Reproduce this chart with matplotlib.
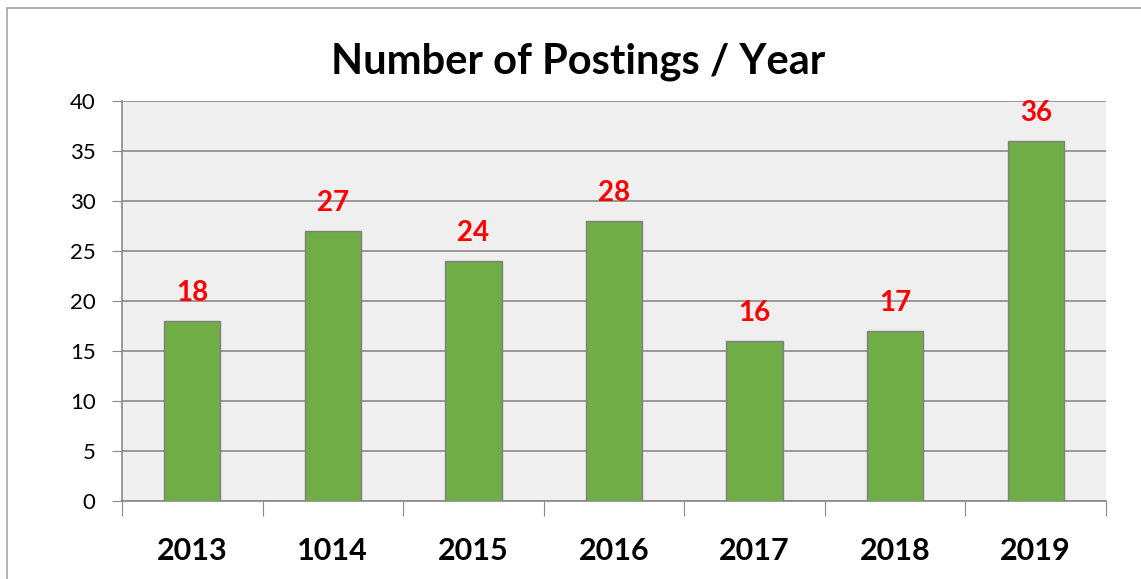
import matplotlib.pyplot as plt
from matplotlib.patches import Rectangle

years = ['2013', '1014', '2015', '2016', '2017', '2018', '2019']
postings = [18, 27, 24, 28, 16, 17, 36]
y_ticks = [0, 5, 10, 15, 20, 25, 30, 35, 40]

plt.rcParams['font.family'] = ['Lato', 'DejaVu Sans']

fig = plt.figure(figsize=(11.41, 5.79), dpi=100)
# outer chart frame (cut off at right and bottom like the screenshot)
fig.patches.append(Rectangle((7 / 1141, -0.1), 1.2, 1 - 8 / 579 + 0.1,
                             transform=fig.transFigure, fill=False,
                             edgecolor='#a6a6a6', linewidth=1.2))

ax = fig.add_axes([122 / 1141, 1 - 501 / 579, (1106 - 122) / 1141, 400 / 579])
ax.set_facecolor('#efefef')

x = range(len(years))
ax.bar(x, postings, width=0.4, color='#70ad47', edgecolor='#7f7f7f',
       linewidth=1, zorder=3)
for i, v in enumerate(postings):
    ax.text(i, v + 1.5, str(v), ha='center', va='bottom', color='red',
            fontsize=20, fontweight='bold', zorder=4)

ax.set_xlim(-0.5, len(years) - 0.5)
ax.set_ylim(0, 40)
ax.set_yticks(y_ticks)
ax.tick_params(axis='y', labelsize=16, length=7, color='#898989', pad=12)
ax.yaxis.grid(True, color='#898989', linewidth=1.2, zorder=0)

ax.set_xticks([i - 0.5 for i in range(len(years) + 1)])
ax.set_xticklabels([])
ax.set_xticks(list(x), minor=True)
ax.set_xticklabels(years, minor=True, fontsize=22, fontweight='bold')
ax.tick_params(axis='x', which='major', length=11, color='#898989')
ax.tick_params(axis='x', which='minor', length=0, pad=26)

for s in ['top', 'right']:
    ax.spines[s].set_visible(False)
for s in ['left', 'bottom']:
    ax.spines[s].set_color('#898989')
    ax.spines[s].set_linewidth(1.2)

fig.text(578 / 1141, 1 - 62 / 579, 'Number of Postings / Year', ha='center',
         va='center', fontsize=30, fontweight='bold')

fig.savefig('out.png', dpi=100)
